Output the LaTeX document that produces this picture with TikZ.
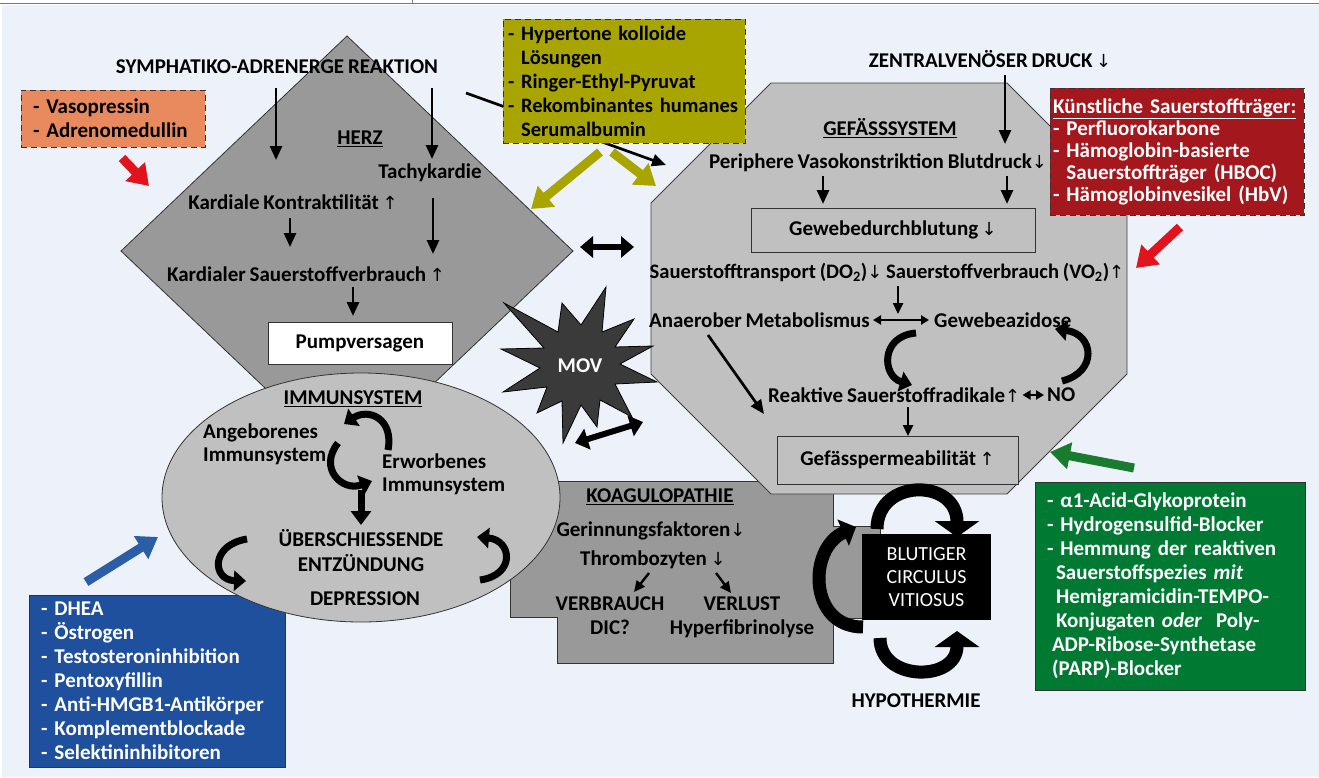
\documentclass[tikz,border=0pt]{standalone}
\usepackage{fontspec}
\setmainfont{Carlito}[WordSpace=0.8]
\newfontfamily\arrfont{DejaVu Sans}
\usetikzlibrary{arrows.meta}
\definecolor{bgblue}{RGB}{237,242,250}
\definecolor{topline}{RGB}{70,130,195}
\definecolor{grayA}{RGB}{153,153,153}
\definecolor{grayB}{RGB}{192,192,192}
\definecolor{starc}{RGB}{58,58,58}
\definecolor{olivec}{RGB}{168,165,0}
\definecolor{orangec}{RGB}{232,138,94}
\definecolor{redbox}{RGB}{163,23,29}
\definecolor{redarr}{RGB}{225,20,30}
\definecolor{bluebox}{RGB}{31,80,157}
\definecolor{bluearr}{RGB}{44,94,168}
\definecolor{greenbox}{RGB}{0,122,51}
\definecolor{greenarr}{RGB}{26,123,47}
\newcommand\UA{{\arrfont\mdseries\fontsize{18}{18}\selectfont ↑}}
\newcommand\DA{{\arrfont\mdseries\fontsize{18}{18}\selectfont ↓}}
\begin{document}
\begin{tikzpicture}[x=1pt,y=-1pt,
  txt/.style={font=\bfseries\fontsize{21}{24}\selectfont, inner sep=0pt, text=black},
  cbox/.style={txt, align=left, inner ysep=0pt, line width=0.8pt},
  dbox/.style={draw=black!80, dash pattern=on 6pt off 4pt},
  arr/.style={-{Triangle[length=14pt,width=12pt]}, line width=2.7pt},
  sarr/.style={-{Triangle[length=11pt,width=10pt]}, line width=2.4pt},
  darr/.style={{Triangle[length=8pt,width=9pt]}-{Triangle[length=8pt,width=9pt]}, line width=2.2pt},
  fat/.style={-{Triangle[length=20pt,width=26pt]}, line width=9pt},
  fatdbl/.style={{Triangle[length=13pt,width=21pt]}-{Triangle[length=13pt,width=21pt]}, line width=6pt},
  fatblk/.style={-{Triangle[length=14pt,width=20pt]}, line width=7pt},
  curv/.style={-{Triangle[length=12pt,width=20pt]}, line width=7pt},
  big/.style={-{Triangle[length=16pt,width=44pt]}, line width=13pt},
  bigl/.style={-{Triangle[length=14pt,width=28pt]}, line width=13pt},
]
\useasboundingbox (0,0) rectangle (1319,777);
% background
\fill[white] (0,0) rectangle (1319,777);
\fill[bgblue] (2,5) rectangle (1319,777);
\draw[topline, line width=1.6pt] (0,3.5) -- (1319,3.5);
\draw[gray, line width=0.8pt] (412,0) -- (412,4);

% big shapes
\draw[fill=grayA, draw=black!80, line width=0.8pt] (347,36) -- (573,251) -- (347,466) -- (121,251) -- cycle;
\draw[fill=grayA, draw=black!80, line width=0.8pt] (510,481) -- (833,481) -- (833,526) -- (880,526) -- (880,618) -- (833,618) -- (833,663) -- (557,663) -- (557,617) -- (510,617) -- cycle;
\draw[fill=grayB, draw=black!75, line width=0.8pt] (771,83) -- (1007,83) -- (1127,203) -- (1127,374) -- (1007,494) -- (771,494) -- (651,374) -- (651,203) -- cycle;

% blue box (under ellipse)
\node[cbox, fill=bluebox, draw=black!80, text=white, inner xsep=12pt, text width=232pt, minimum height=172pt] (blue) at (157,681)
 {- DHEA\\- Östrogen\\- Testosteroninhibition\\- Pentoxyfillin\\- Anti-HMGB1-Antikörper\\- Komplementblockade\\- Selektininhibitoren};

\draw[fill=grayB, draw=black!80, line width=0.8pt] (361,497.5) ellipse [x radius=199, y radius=124.5];

% line under olive box
\coordinate (la) at (466,93); \coordinate (lb) at (666,165);
\draw[arr] (la) -- (lb);

% coloured boxes
\node[cbox, dbox, fill=orangec, inner xsep=12pt, text width=160pt, minimum height=57pt] (vaso) at (113,118.5)
 {- Vasopressin\\- Adrenomedullin};
\node[cbox, dbox, fill=olivec, inner xsep=5pt, text width=232pt, minimum height=124pt, font=\bfseries\fontsize{20.5}{24}\selectfont] (olive) at (624,81)
 {\mbox{- Hypertone kolloide}\\\phantom{- }Lösungen\\\mbox{- Ringer-Ethyl-Pyruvat}\\\mbox{- Rekombinantes humanes}\\\phantom{- }Serumalbumin};
\node[cbox, dbox, fill=redbox, text=white, inner xsep=3pt, text width=248pt, minimum height=127pt, font=\bfseries\fontsize{21}{22}\selectfont] (kst) at (1177,151.5)
 {\underline{Künstliche Sauerstoffträger:}\\- Perfluorokarbone\\- Hämoglobin-basierte\\\phantom{- }\mbox{Sauerstoffträger (HBOC)}\\\mbox{- Hämoglobinvesikel (HbV)}};
\node[cbox, fill=greenbox, draw=black!80, text=white, inner xsep=12pt, text width=246pt, minimum height=208pt] (green) at (1170,586)
 {\mbox{- α1-Acid-Glykoprotein}\\\mbox{- Hydrogensulfid-Blocker}\\\mbox{- Hemmung der reaktiven}\\\hspace*{9pt}\mbox{Sauerstoffspezies \textit{mit}}\\\hspace*{9pt}\mbox{Hemigramicidin-TEMPO-}\\\hspace*{9pt}\mbox{Konjugaten \textit{oder}\ \ Poly-}\\\hspace*{5pt}\mbox{ADP-Ribose-Synthetase}\\\hspace*{5pt}\mbox{(PARP)-Blocker}};

% MOV star
\draw[fill=starc, draw=black, line width=0.8pt] (504,303) -- (558,332) -- (562,303) -- (581,325) -- (606,287) -- (602,332) -- (634,319) -- (615,347) -- (653,346) -- (620,364) -- (657,382) -- (615,384) -- (632,417) -- (600,400) -- (597,427) -- (581,405) -- (563,443) -- (562,401) -- (537,413) -- (547,387) -- (503,392) -- (540,368) -- (501,349) -- (544,348) -- cycle;
\node[txt, text=white] (mov) at (580,366) {MOV};

% HERZ texts
\node[txt] (symp) at (277,67) {SYMPHATIKO-ADRENERGE REAKTION};
\node[txt] (herz) at (360,139) {\underline{HERZ}};
\node[txt] (tachy) at (430,173) {Tachykardie};
\node[txt] (kk) at (293,202) {Kardiale Kontraktilität \UA};
\node[txt] (ksv) at (306,274) {Kardialer Sauerstoffverbrauch \UA};
\node[txt, fill=white, draw=black!80, line width=0.8pt, minimum width=184pt, minimum height=42pt] (pump) at (360,343) {Pumpversagen};
\coordinate (h1a) at (276,88); \coordinate (h1b) at (276,160);
\coordinate (h2a) at (432,88); \coordinate (h2b) at (432,159);
\coordinate (h3a) at (290,218); \coordinate (h3b) at (290,247);
\coordinate (h4a) at (433,198); \coordinate (h4b) at (433,254);
\coordinate (h5a) at (353,287); \coordinate (h5b) at (353,316);
\draw[arr] (h1a) -- (h1b);
\draw[arr] (h2a) -- (h2b);
\draw[arr] (h3a) -- (h3b);
\draw[arr] (h4a) -- (h4b);
\draw[arr] (h5a) -- (h5b);

% GEFAESS texts
\node[txt] (zvd) at (990,59) {ZENTRALVENÖSER DRUCK\,\DA};
\node[txt] (gef) at (890,128) {\underline{GEFÄSSSYSTEM}};
\node[txt] (pv) at (878,163) {Periphere Vasokonstriktion Blutdruck\DA};
\node[txt, draw=black!80, line width=0.8pt, fill=grayB, minimum width=284pt, minimum height=44pt] (gdb) at (893,230) {Gewebedurchblutung\,\DA};
\node[txt, font=\bfseries\fontsize{20.6}{24}\selectfont] (st) at (887,272) {Sauerstofftransport (DO\textsubscript{2})\DA\ Sauerstoffverbrauch (VO\textsubscript{2})\UA};
\node[txt, anchor=east] (anm) at (870,320) {Anaerober Metabolismus};
\node[txt, anchor=west] (gaz) at (934,320) {Gewebeazidose};
\node[txt, anchor=west] (rs) at (768,395) {Reaktive Sauerstoffradikale\UA};
\node[txt, anchor=west] (no) at (1047,395) {NO};
\node[txt, draw=black!80, line width=0.8pt, fill=grayB, minimum width=241pt, minimum height=48pt] (gp) at (897.5,460) {Gefässpermeabilität\,\UA};
\coordinate (g1a) at (1005,75); \coordinate (g1b) at (1005,144);
\coordinate (g2a) at (823,176); \coordinate (g2b) at (823,204);
\coordinate (g3a) at (1007,176); \coordinate (g3b) at (1007,204);
\coordinate (g4a) at (898,286); \coordinate (g4b) at (898,314);
\coordinate (g5a) at (708,335); \coordinate (g5b) at (764,414);
\coordinate (g6a) at (908,407); \coordinate (g6b) at (908,436);
\draw[arr] (g1a) -- (g1b);
\draw[arr] (g2a) -- (g2b);
\draw[arr] (g3a) -- (g3b);
\draw[sarr] (g4a) -- (g4b);
\draw[arr] (g5a) -- (g5b);
\draw[sarr] (g6a) -- (g6b);
\draw[darr] ([xshift=3pt]anm.east) -- ([xshift=-5pt]gaz.west);
\draw[darr] ([xshift=2pt]rs.east) -- ([xshift=-3pt]no.west);
\coordinate (c1a) at (916,333); \coordinate (c1b) at (912,385);
\coordinate (c2a) at (1062,381); \coordinate (c2b) at (1055,329);
\draw[curv] (c1a) .. controls (880,336) and (882,376) .. (c1b);
\draw[curv] (c2a) .. controls (1098,372) and (1094,334) .. (c2b);

% IMMUN texts
\node[txt] (imm) at (353,399) {\underline{IMMUNSYSTEM}};
\node[txt, align=left, anchor=west, font=\bfseries\fontsize{21}{23}\selectfont] (ang) at (203,444.5) {Angeborenes\\Immunsystem};
\node[txt, align=left, anchor=west, font=\bfseries\fontsize{21}{23}\selectfont] (erw) at (382,474.5) {Erworbenes\\Immunsystem};
\node[txt, align=center, font=\bfseries\fontsize{21}{25}\selectfont] (ueb) at (361,550.5) {ÜBERSCHIESSENDE\\ENTZÜNDUNG};
\node[txt] (dep) at (365,599) {DEPRESSION};
\coordinate (i1a) at (388,450); \coordinate (i1b) at (344,424);
\coordinate (i2a) at (338,443); \coordinate (i2b) at (372,481);
\coordinate (i3a) at (361,490); \coordinate (i3b) at (361,525);
\coordinate (i4a) at (247,539); \coordinate (i4b) at (246,581);
\coordinate (i5a) at (480,580); \coordinate (i5b) at (477,537);
\draw[curv] (i1a) .. controls (394,418) and (368,408) .. (i1b);
\draw[curv] (i2a) .. controls (318,468) and (342,492) .. (i2b);
\draw[fatblk] (i3a) -- (i3b);
\draw[curv] (i4a) .. controls (210,545) and (212,580) .. (i4b);
\draw[curv] (i5a) .. controls (516,575) and (512,540) .. (i5b);

% KOAGULOPATHIE texts
\node[txt] (koag) at (660,497) {\underline{KOAGULOPATHIE}};
\node[txt] (gf) at (651,531) {Gerinnungsfaktoren\DA};
\node[txt] (thr) at (653,560) {Thrombozyten \DA};
\node[txt, align=center] (verb) at (610,615.5) {VERBRAUCH\\DIC?};
\node[txt, align=center] (verl) at (742,617.5) {VERLUST\\Hyperfibrinolyse};
\coordinate (k1a) at (649,573); \coordinate (k1b) at (634,592);
\coordinate (k2a) at (716,573); \coordinate (k2b) at (731,593);
\draw[sarr] (k1a) -- (k1b);
\draw[sarr] (k2a) -- (k2b);

% circulus
\node[fill=black, text=white, minimum width=129pt, minimum height=86pt, inner sep=0pt, align=center, font=\fontsize{20}{23}\selectfont] (circ) at (926.5,577) {BLUTIGER\\CIRCULUS\\VITIOSUS};
\node[txt] (hypo) at (916,701) {HYPOTHERMIE};
\coordinate (b1a) at (877,529); \coordinate (b1b) at (957,537);
\coordinate (b2a) at (880,638); \coordinate (b2b) at (957,631);
\coordinate (b3a) at (863,627); \coordinate (b3b) at (856,527);
\draw[big] (b1a) .. controls (877,478) and (957,478) .. (b1b);
\draw[big] (b2a) .. controls (880,682) and (957,682) .. (b2b);
\draw[bigl] (b3a) .. controls (808,627) and (808,548) .. (b3b);

% black double arrows
\coordinate (d1a) at (580,247); \coordinate (d1b) at (634,247);
\coordinate (d2a) at (575,443); \coordinate (d2b) at (643,422);
\draw[fatdbl] (d1a) -- (d1b);
\draw[fatdbl] (d2a) -- (d2b);

% coloured fat arrows
\coordinate (f1a) at (122,158); \coordinate (f1b) at (149,186);
\coordinate (f2a) at (600,152); \coordinate (f2b) at (531,209);
\coordinate (f3a) at (612,152); \coordinate (f3b) at (656,186);
\coordinate (f4a) at (1180,227); \coordinate (f4b) at (1136,268);
\coordinate (f5a) at (86,582); \coordinate (f5b) at (158,537);
\coordinate (f6a) at (1134,468); \coordinate (f6b) at (1050,452);
\draw[fat, redarr] (f1a) -- (f1b);
\draw[fat, olivec] (f2a) -- (f2b);
\draw[fat, olivec] (f3a) -- (f3b);
\draw[fat, redarr] (f4a) -- (f4b);
\draw[fat, bluearr] (f5a) -- (f5b);
\draw[fat, greenarr] (f6a) -- (f6b);
\end{tikzpicture}
\end{document}
